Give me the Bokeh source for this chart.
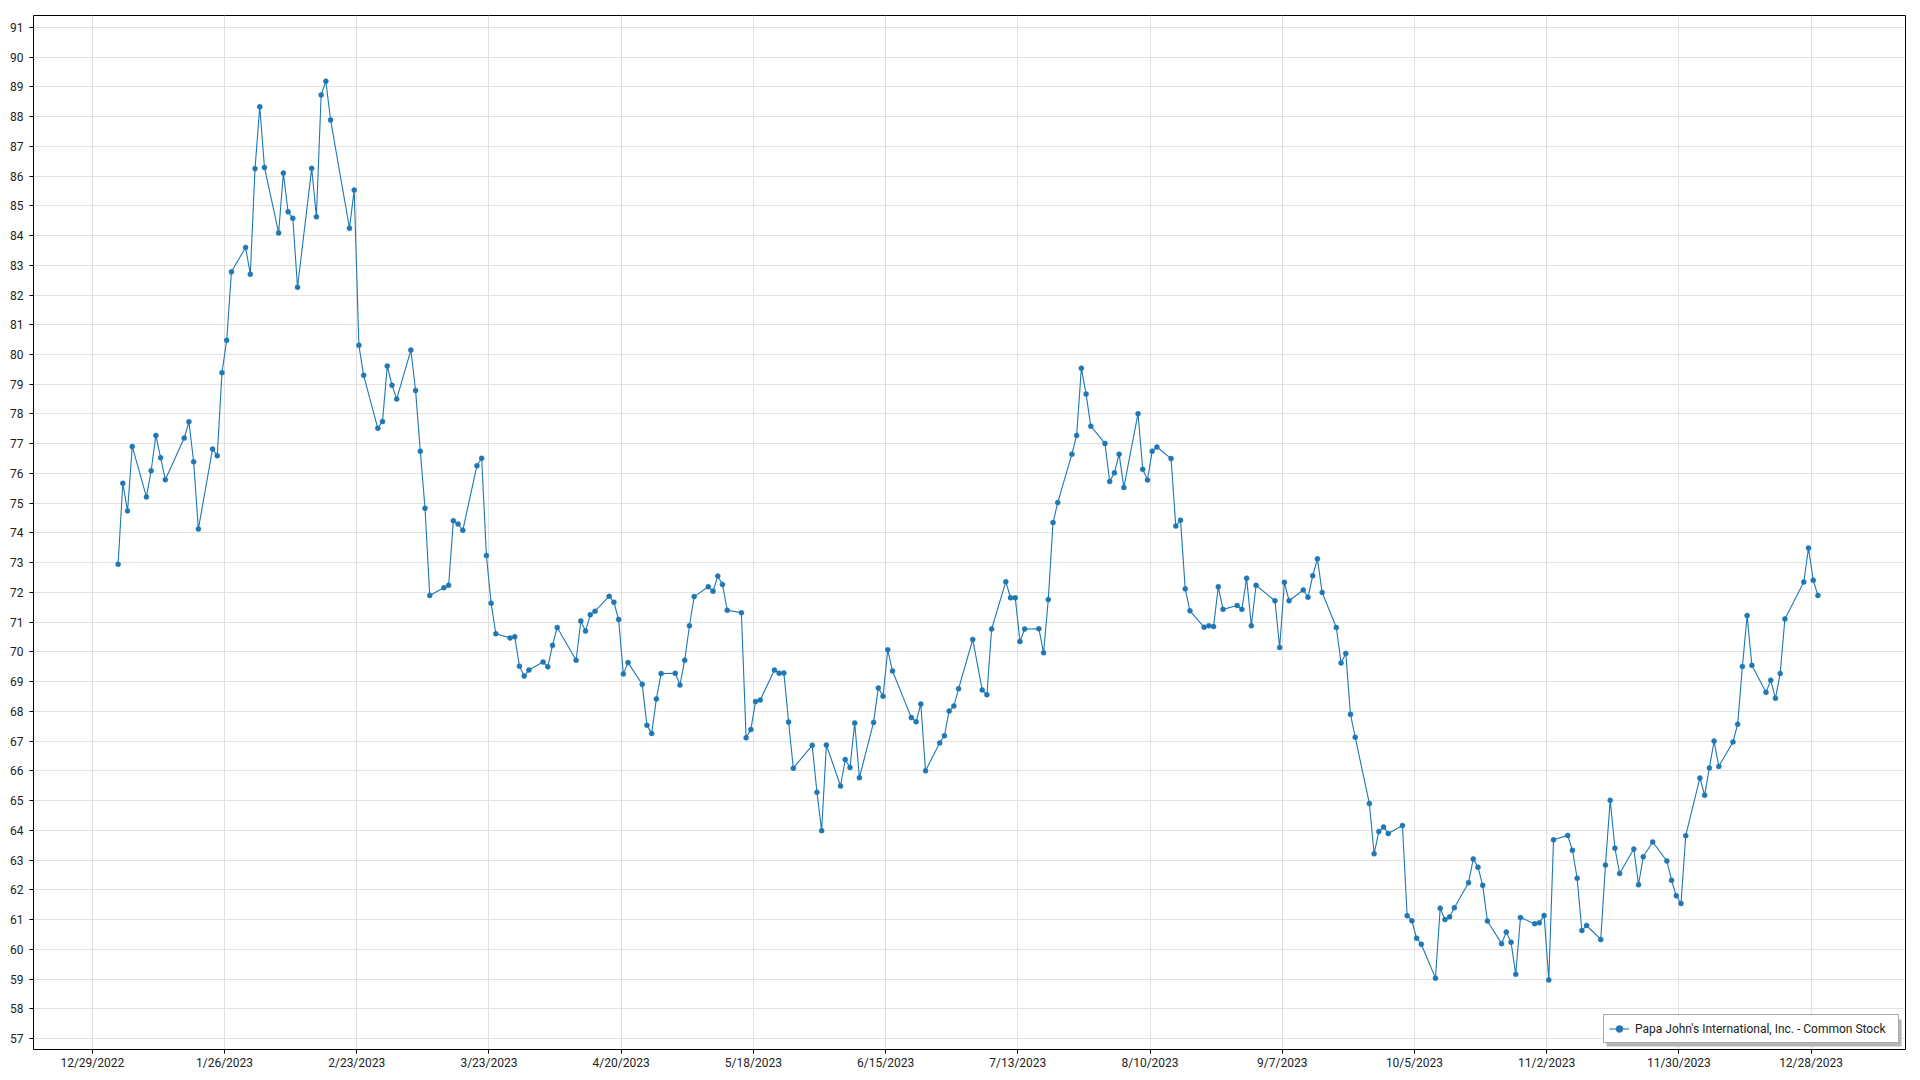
import pandas as pd
from bokeh.plotting import figure
from bokeh.models import Range1d, FixedTicker, Legend, LegendItem, BoxAnnotation
from bokeh.embed import file_html
from bokeh.resources import INLINE

SERIES_NAME = "Papa John's International, Inc. - Common Stock"
YEAR = 2023

# Trading days (day of month) and closing prices, month by month
jan_days = [3, 4, 5, 6, 9, 10, 11, 12, 13, 17, 18, 19, 20, 23, 24, 25, 26, 27, 30, 31]
jan_close = [72.95, 75.67, 74.74, 76.91, 75.21, 76.09, 77.28, 76.53, 75.79, 77.19,
             77.74, 76.39, 74.13, 76.82, 76.60, 79.39, 80.48, 82.78, 83.60, 82.70]

feb_days = [1, 2, 3, 6, 7, 8, 9, 10, 13, 14, 15, 16, 17, 21, 22, 23, 24, 27, 28]
feb_close = [86.25, 88.33, 86.29, 84.09, 86.10, 84.80, 84.58, 82.26, 86.26, 84.63,
             88.73, 89.19, 87.89, 84.25, 85.53, 80.31, 79.30, 77.52, 77.75]

mar_days = [1, 2, 3, 6, 7, 8, 9, 10, 13, 14, 15, 16, 17, 20, 21, 22, 23, 24, 27, 28, 29, 30, 31]
mar_close = [79.61, 78.97, 78.50, 80.15, 78.79, 76.75, 74.83, 71.90, 72.16, 72.24,
             74.41, 74.30, 74.09, 76.26, 76.51, 73.24, 71.64, 70.61, 70.47, 70.51,
             69.52, 69.19, 69.39]

apr_days = [3, 4, 5, 6, 10, 11, 12, 13, 14, 17, 18, 19, 20, 21, 24, 25, 26, 27, 28]
apr_close = [69.66, 69.50, 70.22, 70.82, 69.72, 71.04, 70.70, 71.25, 71.37, 71.87,
             71.67, 71.09, 69.26, 69.64, 68.91, 67.53, 67.26, 68.42, 69.27]

may_days = [1, 2, 3, 4, 5, 8, 9, 10, 11, 12, 15, 16, 17, 18, 19, 22, 23, 24, 25, 26, 30, 31]
may_close = [69.28, 68.89, 69.72, 70.88, 71.86, 72.19, 72.04, 72.55, 72.27, 71.40,
             71.32, 67.11, 67.39, 68.33, 68.38, 69.39, 69.28, 69.29, 67.64, 66.09,
             66.86, 65.28]

jun_days = [1, 2, 5, 6, 7, 8, 9, 12, 13, 14, 15, 16, 20, 21, 22, 23, 26, 27, 28, 29, 30]
jun_close = [63.99, 66.87, 65.49, 66.38, 66.11, 67.61, 65.77, 67.63, 68.79, 68.51,
             70.07, 69.36, 67.79, 67.65, 68.25, 66.00, 66.94, 67.18, 68.01, 68.18, 68.76]

jul_days = [3, 5, 6, 7, 10, 11, 12, 13, 14, 17, 18, 19, 20, 21, 24, 25, 26, 27, 28, 31]
jul_close = [70.42, 68.72, 68.56, 70.77, 72.36, 71.82, 71.82, 70.35, 70.77, 70.78,
             69.97, 71.76, 74.35, 75.02, 76.65, 77.28, 79.54, 78.67, 77.59, 77.01]

aug_days = [1, 2, 3, 4, 7, 8, 9, 10, 11, 14, 15, 16, 17, 18, 21, 22, 23, 24, 25, 28, 29, 30, 31]
aug_close = [75.73, 76.02, 76.65, 75.53, 78.01, 76.14, 75.78, 76.75, 76.89, 76.50,
             74.23, 74.43, 72.12, 71.38, 70.83, 70.88, 70.85, 72.19, 71.43, 71.56,
             71.43, 72.48, 70.88]

sep_days = [1, 5, 6, 7, 8, 11, 12, 13, 14, 15, 18, 19, 20, 21, 22, 25, 26, 27, 28, 29]
sep_close = [72.24, 71.72, 70.15, 72.34, 71.72, 72.08, 71.84, 72.56, 73.13, 72.00,
             70.82, 69.63, 69.95, 67.90, 67.13, 64.90, 63.21, 63.96, 64.11, 63.89]

oct_days = [2, 3, 4, 5, 6, 9, 10, 11, 12, 13, 16, 17, 18, 19, 20, 23, 24, 25, 26, 27, 30, 31]
oct_close = [64.16, 61.13, 60.96, 60.37, 60.17, 59.03, 61.38, 61.00, 61.09, 61.40,
             62.24, 63.04, 62.76, 62.15, 60.95, 60.19, 60.58, 60.24, 59.16, 61.07,
             60.86, 60.89]

nov_days = [1, 2, 3, 6, 7, 8, 9, 10, 13, 14, 15, 16, 17, 20, 21, 22, 24, 27, 28, 29, 30]
nov_close = [61.14, 58.97, 63.68, 63.83, 63.33, 62.39, 60.63, 60.80, 60.33, 62.83,
             65.01, 63.40, 62.55, 63.37, 62.17, 63.11, 63.61, 62.97, 62.32, 61.80, 61.54]

dec_days = [1, 4, 5, 6, 7, 8, 11, 12, 13, 14, 15, 18, 19, 20, 21, 22, 26, 27, 28, 29]
dec_close = [63.82, 65.76, 65.18, 66.10, 67.00, 66.15, 66.97, 67.57, 69.51, 71.22,
             69.55, 68.64, 69.05, 68.44, 69.27, 71.11, 72.35, 73.49, 72.41, 71.90]

tick_labels = ["12/29/2022", "1/26/2023", "2/23/2023", "3/23/2023", "4/20/2023",
               "5/18/2023", "6/15/2023", "7/13/2023", "8/10/2023", "9/7/2023",
               "10/5/2023", "11/2/2023", "11/30/2023", "12/28/2023"]
y_ticks = list(range(57, 92))

# ---- build series ----
months = [jan_days, feb_days, mar_days, apr_days, may_days, jun_days,
          jul_days, aug_days, sep_days, oct_days, nov_days, dec_days]
closes = [jan_close, feb_close, mar_close, apr_close, may_close, jun_close,
          jul_close, aug_close, sep_close, oct_close, nov_close, dec_close]
time_offset = pd.Timedelta(hours=11)
xs, ys = [], []
for m, (dl, cl) in enumerate(zip(months, closes), start=1):
    for d, c in zip(dl, cl):
        xs.append(pd.Timestamp(YEAR, m, d) + time_offset)
        ys.append(c)

FONT = "Roboto"
BLUE = "#1f77b4"

x_start = pd.Timestamp("2022-12-16 13:00")
x_end = pd.Timestamp("2024-01-17 00:00")

p = figure(width=1912, height=1072, x_axis_type="datetime",
           output_backend="svg", toolbar_location=None,
           x_range=Range1d(x_start, x_end), y_range=Range1d(56.63, 91.4),
           min_border_left=33, min_border_right=7, min_border_top=15,
           min_border_bottom=22)

p.background_fill_color = "white"
p.border_fill_color = "white"
p.outline_line_color = "black"
p.outline_line_width = 1

tick_ms = [pd.Timestamp(pd.to_datetime(t, format="%m/%d/%Y")).value // 10**6 for t in tick_labels]
p.xaxis.ticker = FixedTicker(ticks=tick_ms)
p.xaxis.major_label_overrides = {ms: lab for ms, lab in zip(tick_ms, tick_labels)}
p.yaxis.ticker = FixedTicker(ticks=y_ticks)

for ax in (p.xaxis[0], p.yaxis[0]):
    ax.axis_line_color = None
    ax.major_tick_out = 4
    ax.major_tick_in = 0
    ax.major_tick_line_color = "black"
    ax.minor_tick_line_color = None
    ax.major_label_text_font = FONT
    ax.major_label_text_font_size = "12px"
    ax.major_label_text_color = "#222222"
p.xaxis.major_label_standoff = 2
p.yaxis.major_label_standoff = 6

p.xgrid.grid_line_color = "#e0e0e0"
p.ygrid.grid_line_color = "#e2e2e2"
p.xgrid.grid_line_width = 1
p.ygrid.grid_line_width = 1

r_line = p.line(xs, ys, line_color=BLUE, line_width=1.1)
r_pts = p.scatter(xs, ys, size=5, fill_color=BLUE, line_color=BLUE, line_width=0.5)

shadow = BoxAnnotation(left=1606, right=1901, top=1019, bottom=1046,
                       left_units="canvas", right_units="canvas",
                       top_units="canvas", bottom_units="canvas",
                       fill_color="#b5b5b5", fill_alpha=1.0, line_color=None)
p.add_layout(shadow)

legend = Legend(items=[LegendItem(label=SERIES_NAME, renderers=[r_line, r_pts])],
                location="bottom_right", margin=6, padding=5, spacing=0,
                glyph_width=20, glyph_height=17, label_height=17,
                label_standoff=6, label_width=258,
                label_text_font=FONT, label_text_font_size="12px",
                label_text_color="#222222",
                border_line_color="#555555", border_line_width=1,
                background_fill_color="white", background_fill_alpha=1.0)
p.add_layout(legend)

open("out.html", "w").write(file_html(p, INLINE))
